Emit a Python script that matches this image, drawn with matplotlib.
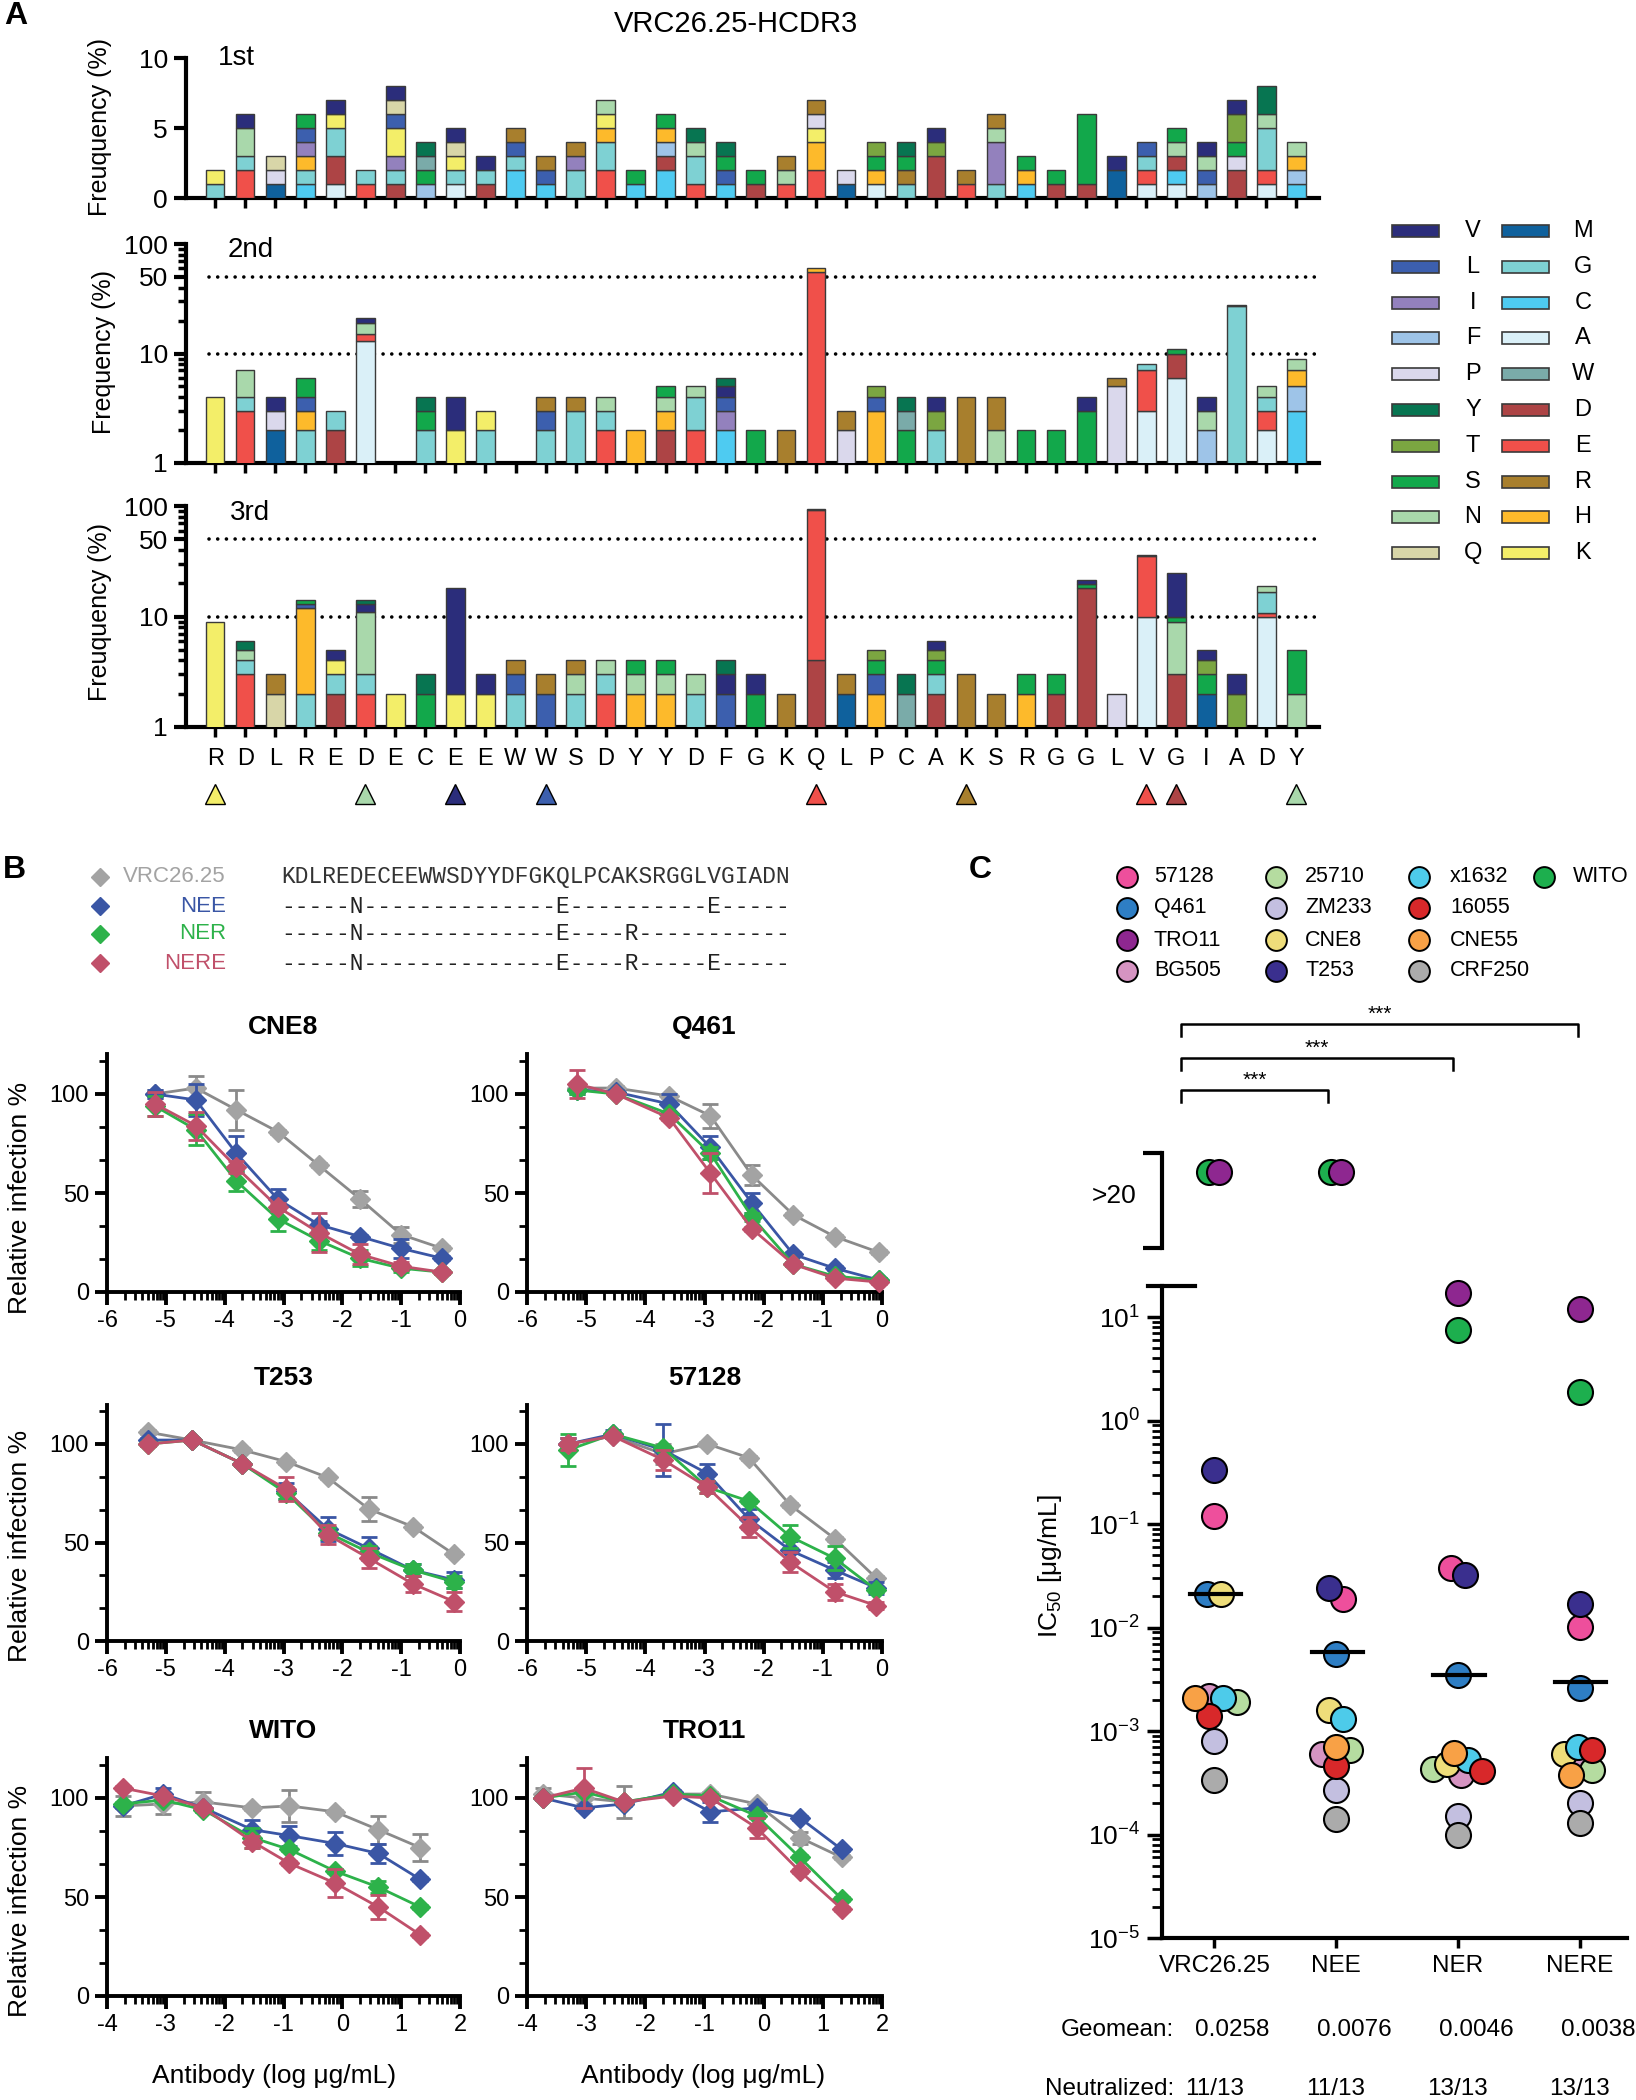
import numpy as np
import matplotlib
matplotlib.use('Agg')
import matplotlib.pyplot as plt
from matplotlib.patches import Rectangle
from matplotlib.lines import Line2D
import matplotlib.transforms as mtransforms

plt.rcParams.update({
    'font.family': ['Liberation Sans', 'DejaVu Sans'],
    'axes.unicode_minus': False,
    'mathtext.fontset': 'custom',
    'mathtext.rm': 'Liberation Sans',
    'mathtext.it': 'Liberation Sans:italic',
    'mathtext.bf': 'Liberation Sans:bold',
})

W, H = 1636, 2100
fig = plt.figure(figsize=(W / 100, H / 100), dpi=100)


def px_rect(l, t, r, b):
    return [l / W, 1 - b / H, (r - l) / W, (b - t) / H]


def fx(x):
    return x / W


def fy(y):
    return 1 - y / H


# ======================= DATA =======================
# Panel A: HCDR3 positions and per-round residue frequencies (%)
a_positions = list("RDLREDECEEWWSDYYDFGKQLPCAKSRGGLVGIADY")
round1 = ["G1 K1", "E2 G1 N2 V1", "M1 P1 Q1", "C1 G1 H1 I1 L1 S1", "A1 D2 G2 K1 V1",
          "E1 G1", "D1 G1 I1 K2 L1 Q1 V1", "F1 S1 W1 Y1", "A1 G1 K1 Q1 V1", "D1 G1 V1",
          "C2 G1 L1 R1", "C1 L1 R1", "G2 I1 R1", "E2 G2 H1 K1 N1", "C1 S1",
          "C2 D1 F1 H1 S1", "E1 G2 N1 Y1", "C1 L1 S1 Y1", "D1 S1", "E1 N1 R1",
          "E2 H2 K1 P1 R1", "M1 P1", "A1 H1 S1 T1", "G1 R1 S1 Y1", "D3 T1 V1",
          "E1 R1", "G1 I3 N1 R1", "C1 H1 S1", "D1 S1", "D1 S5",
          "M2 V1", "A1 E1 G1 L1", "A1 C1 D1 N1 S1", "F1 L1 N1 V1", "D2 P1 S1 T2 V1",
          "A1 E1 G3 N1 Y2", "C1 F1 H1 N1"]
round2 = ["K4", "E3 G1 N3", "M2 P1 V1", "G2 H1 L1 S2", "D2 G1",
          "A13 E2 N4 V2", "", "G2 S1 Y1", "K2 V2", "G2 K1",
          "", "G2 L1 R1", "G3 R1", "E2 G1 N1", "H2",
          "D2 H1 N1 S1", "E2 G2 N1", "C2 I1 L1 V1 Y1", "S2", "R2",
          "E55 H6", "P2 R1", "H3 L1 T1", "S2 W1 Y1", "G2 T1 V1",
          "R4", "N2 R2", "S2", "S2", "S3 V1",
          "P5 R1", "A3 E4 G1", "A6 D4 S1", "F2 N1 V1", "G27 V1",
          "A2 E1 G1 N1", "C3 F2 H2 N2"]
round3 = ["K9", "E3 G1 N1 Y1", "Q2 R1", "G2 H10 L1 S1", "D2 G1 K1 V1",
          "E2 G1 N8 V2 Y1", "K2", "S2 Y1", "K2 V16", "K2 V1",
          "G2 L1 R1", "L2 R1", "G2 N1 R1", "E2 G1 N1", "H2 N1 S1",
          "H2 N1 S1", "G2 N1", "L2 V1 Y1", "S2 V1", "R2",
          "D4 E88 V2", "M2 R1", "H2 L1 S1 T1", "W2 Y1", "D2 G1 S1 T1 V1",
          "R3", "R2", "H2 S1", "D2 S1", "D18 S1.5 V2",
          "P2", "A10 E25 V1", "D3 N6 S1 V15", "M2 S1 T1 V1", "T2 V1",
          "A10 E0.7 G6 N2", "N2 S3"]
round_names = ["1st", "2nd", "3rd"]
round_ylabels = ["Freuquency (%)", "Frequency (%)", "Freuquency (%)"]
marked_idx = [0, 5, 8, 11, 20, 25, 31, 32, 36]
marked_res = ["K", "N", "V", "L", "E", "R", "E", "D", "N"]

legend_col1 = list("VLIFPYTSNQ")
legend_col2 = list("MGCAWDERHK")
aa_colors = {
    'V': '#2B2D7B', 'L': '#3C5FAE', 'I': '#9381BD', 'F': '#9EC4E8', 'P': '#DAD8EC',
    'Y': '#077551', 'T': '#7BA641', 'S': '#12A84B', 'N': '#A9D8AB', 'Q': '#D8D6A8',
    'M': '#0F619D', 'G': '#7ED1D3', 'C': '#4ECBF1', 'A': '#DAF0F8', 'W': '#7AABA9',
    'D': '#AD4445', 'E': '#F0504A', 'R': '#A87F2D', 'H': '#FDBA2B', 'K': '#F3EE69'}

# Panel B: sequences
antibodies = ["VRC26.25", "NEE", "NER", "NERE"]
ab_colors = ["#A3A3A3", "#3A56A5", "#2DB24A", "#C0506A"]
ab_line_colors = ["#8A8A8A", "#3A56A5", "#2DB24A", "#C0506A"]
parent_seq = "KDLREDECEEWWSDYYDFGKQLPCAKSRGGLVGIADN"
mutations = {"NEE": [(5, "N"), (20, "E"), (31, "E")],
             "NER": [(5, "N"), (20, "E"), (25, "R")],
             "NERE": [(5, "N"), (20, "E"), (25, "R"), (31, "E")]}

# Panel B: neutralization curves (x = log10 antibody ug/mL)
curve_viruses = ["CNE8", "Q461", "T253", "57128", "WITO", "TRO11"]
curve_x = {
    "CNE8": [-5.19, -4.49, -3.80, -3.10, -2.40, -1.70, -1.00, -0.30],
    "Q461": [-5.15, -4.50, -3.60, -2.90, -2.20, -1.50, -0.80, -0.05],
    "T253": [-5.30, -4.55, -3.70, -2.95, -2.25, -1.55, -0.80, -0.10],
    "57128": [-5.30, -4.55, -3.70, -2.95, -2.25, -1.55, -0.80, -0.10],
    "WITO": [-3.73, -3.04, -2.36, -1.53, -0.90, -0.12, 0.61, 1.32],
    "TRO11": [-3.73, -3.04, -2.36, -1.53, -0.90, -0.12, 0.61, 1.32],
}
curve_y = {
    "CNE8": [[100, 103, 92, 81, 64, 47, 29, 22], [100, 97, 70, 47, 34, 28, 22, 17],
             [94, 82, 56, 37, 26, 17, 12, 10], [95, 84, 63, 43, 30, 19, 13, 10]],
    "Q461": [[103, 103, 99, 89, 59, 39, 28, 20], [102, 101, 95, 73, 45, 19, 12, 6],
             [102, 100, 90, 70, 38, 14, 8, 6], [105, 100, 88, 60, 32, 14, 7, 5]],
    "T253": [[106, 102, 97, 91, 83, 67, 58, 44], [102, 102, 90, 76, 57, 47, 36, 31],
             [100, 102, 90, 75, 55, 45, 36, 30], [100, 102, 90, 77, 54, 42, 29, 20]],
    "57128": [[100, 104, 95, 100, 93, 69, 52, 32], [100, 105, 97, 85, 62, 46, 36, 27],
              [97, 105, 98, 78, 71, 53, 42, 26], [100, 104, 92, 78, 58, 40, 25, 18]],
    "WITO": [[96, 97, 98, 95, 96, 93, 84, 75], [96, 102, 95, 84, 81, 77, 72, 59],
             [97, 99, 94, 80, 74, 63, 55, 45], [105, 101, 95, 78, 67, 57, 45, 31]],
    "TRO11": [[102, 100, 98, 102, 102, 97, 80, 70], [100, 95, 97, 103, 93, 95, 90, 74],
              [100, 103, 98, 102, 101, 91, 70, 49], [100, 105, 98, 101, 100, 85, 63, 44]],
}
curve_err = {
    "CNE8": [[2, 6, 10, 1, 1, 4, 4, 1], [2, 8, 9, 5, 2, 1, 5, 1],
             [5, 8, 5, 6, 5, 4, 2, 1], [6, 7, 3, 2, 10, 5, 2, 1]],
    "Q461": [[2, 1, 1, 6, 5, 1, 1, 1], [2, 1, 5, 6, 5, 1, 1, 1],
             [2, 1, 1, 3, 2, 1, 1, 1], [7, 1, 1, 10, 1, 1, 1, 1]],
    "T253": [[1, 1, 1, 1, 1, 6, 1, 1], [1, 1, 1, 4, 6, 6, 3, 4],
             [1, 1, 1, 3, 3, 3, 3, 3], [1, 1, 1, 6, 5, 5, 4, 5]],
    "57128": [[3, 1, 5, 1, 1, 1, 1, 1], [3, 2, 13, 5, 5, 5, 4, 3],
              [8, 1, 1, 3, 1, 6, 6, 1], [3, 1, 5, 3, 5, 5, 4, 2]],
    "WITO": [[5, 5, 5, 1, 8, 1, 7, 7], [1, 3, 1, 5, 5, 6, 5, 1],
             [1, 1, 1, 5, 1, 1, 3, 1], [1, 1, 1, 3, 1, 7, 6, 1]],
    "TRO11": [[3, 3, 8, 1, 1, 1, 3, 1], [1, 1, 1, 1, 5, 1, 1, 1],
              [1, 1, 1, 1, 1, 1, 1, 1], [1, 10, 1, 1, 1, 5, 1, 1]],
}
curve_xrange = {"CNE8": (-6, 0), "Q461": (-6, 0), "T253": (-6, 0),
                "57128": (-6, 0), "WITO": (-4, 2), "TRO11": (-4, 2)}

# Panel C: IC50 values (ug/mL); np.inf = >20
c_viruses = ["57128", "Q461", "TRO11", "BG505", "25710", "ZM233", "CNE8",
             "T253", "x1632", "16055", "CNE55", "CRF250", "WITO"]
c_colors = ["#EE4F9C", "#2E7EC4", "#8E2790", "#D694C2", "#B5DCA0", "#C3BFE0", "#EEDD7A",
            "#3A2F8E", "#4DCBEA", "#D8282A", "#F8A146", "#ABABAB", "#1DAF4E"]
inf = np.inf
ic50_vrc2625 = [0.12, 0.021, inf, 0.0022, 0.0019, 0.0008, 0.021, 0.33, 0.0021, 0.0014, 0.0021, 0.00034, inf]
ic50_nee = [0.019, 0.0055, inf, 0.0006, 0.00065, 0.00027, 0.0016, 0.024, 0.0013, 0.00046, 0.0007, 0.00014, inf]
ic50_ner = [0.038, 0.0035, 17, 0.00038, 0.00043, 0.00015, 0.00048, 0.032, 0.00052, 0.00041, 0.00062, 0.0001, 7.5]
ic50_nere = [0.0102, 0.0026, 12, 0.0005, 0.00042, 0.0002, 0.0006, 0.017, 0.0007, 0.00065, 0.00038, 0.00013, 1.9]
ic50_sets = [ic50_vrc2625, ic50_nee, ic50_ner, ic50_nere]
center_line = [0.021, 0.0058, 0.0035, 0.003]
geomean_txt = ["0.0258", "0.0076", "0.0046", "0.0038"]
neutralized_txt = ["11/13", "11/13", "13/13", "13/13"]
comparisons = [(0, 1), (0, 2), (0, 3)]
comp_labels = ["***", "***", "***"]

# ======================= PANEL A =======================
fig.text(fx(16), fy(16), "A", fontsize=23, fontweight='bold', ha='center', va='center')
fig.text(fx(736), fy(24), "VRC26.25-HCDR3", fontsize=21, ha='center', va='center')

rects_A = [px_rect(186, 58, 1319, 198), px_rect(186, 244, 1319, 463), px_rect(186, 506, 1319, 727)]
rounds = [round1, round2, round3]
label_pos = [(218, 58), (228, 250), (230, 513)]
ylabel_pos = [(100, 127), (104, 352), (100, 612)]
axA = []
for r, (rc, data) in enumerate(zip(rects_A, rounds)):
    ax = fig.add_axes(rc)
    axA.append(ax)
    if r > 0:
        ax.set_yscale('log', nonpositive='clip')
    for i, s in enumerate(data):
        cum = 0.0
        for tok in s.split():
            res, val = tok[0], float(tok[1:])
            ax.bar(i, val, bottom=cum, width=0.62, color=aa_colors[res],
                   edgecolor='#3a3a3a', linewidth=1.0, zorder=3)
            cum += val
    ax.set_xlim(-0.97, 36.75)
    ax.set_xticks(range(len(a_positions)))
    ax.tick_params(axis='x', length=7, width=2.5, labelbottom=False, direction='out')
    for sp in ['top', 'right']:
        ax.spines[sp].set_visible(False)
    for sp in ['left', 'bottom']:
        ax.spines[sp].set_linewidth(3)
    if r == 0:
        ax.set_ylim(0, 10)
        ax.set_yticks([0, 5, 10])
        ax.tick_params(axis='y', length=9, width=3, labelsize=19, pad=4)
    else:
        ax.set_ylim(1, 100)
        ax.set_yticks([1, 10, 50, 100])
        ax.set_yticklabels(["1", "10", "50", "100"])
        minors = [m * d for d in (1, 10) for m in range(2, 10) if m * d != 50]
        ax.set_yticks(minors, minor=True)
        ax.yaxis.set_minor_formatter(matplotlib.ticker.NullFormatter())
        ax.tick_params(axis='y', which='major', length=9, width=3, labelsize=19, pad=4)
        ax.tick_params(axis='y', which='minor', length=6, width=2.5)
        for lvl in (10, 50):
            ax.axhline(lvl, color='black', lw=2.6, linestyle=(0, (0.01, 2.4)),
                       dash_capstyle='round', zorder=1, xmin=0.02)
    fig.text(fx(label_pos[r][0]), fy(label_pos[r][1]), round_names[r], fontsize=20,
             ha='left', va='center')
    fig.text(fx(ylabel_pos[r][0]), fy(ylabel_pos[r][1]), round_ylabels[r], fontsize=18,
             rotation=90, ha='center', va='center')

ax3 = axA[2]
tr = ax3.get_xaxis_transform()
for i, aa in enumerate(a_positions):
    ax3.text(i, -0.145, aa, transform=tr, ha='center', va='center', fontsize=17, clip_on=False)
for i, res in zip(marked_idx, marked_res):
    ax3.plot([i], [-0.305], transform=tr, marker='^', ms=15, color=aa_colors[res],
             markeredgecolor='black', markeredgewidth=1.0, clip_on=False, ls='none')

# legend A
row_y0, row_dy = 231, 35.8
for col, (names, px0, lx) in enumerate([(legend_col1, 1392, 1473), (legend_col2, 1502, 1583)]):
    for k, aa in enumerate(names):
        y = row_y0 + k * row_dy
        fig.patches.append(Rectangle((fx(px0), fy(y + 6)), 47 / W, 12 / H, transform=fig.transFigure,
                                     facecolor=aa_colors[aa], edgecolor='#3a3a3a', lw=1.2))
        fig.text(fx(lx), fy(y), aa, fontsize=17, ha='center', va='center')

# ======================= PANEL B =======================
fig.text(fx(14), fy(870), "B", fontsize=23, fontweight='bold', ha='center', va='center')
seq_rows_y = [877, 906, 934, 963]
for k, (name, col) in enumerate(zip(antibodies, ab_colors)):
    y = seq_rows_y[k]
    fig.add_artist(Line2D([fx(100)], [fy(y)], marker='D', ms=9, color=col,
                          transform=fig.transFigure, ls='none'))
    fig.text(fx(226), fy(y), name, color=col, fontsize=16, ha='right', va='center')
    if name in mutations:
        s = ['-'] * len(parent_seq)
        for idx, aa in mutations[name]:
            s[idx] = aa
        s = ''.join(s)
        scol = '#222222'
    else:
        s = parent_seq
        scol = '#333333'
    fig.text(fx(281), fy(y), s, fontsize=16.5, family='Liberation Mono', color=scol,
             ha='left', va='center')

b_rects = {
    "CNE8": (107, 460, 1292, 1.98), "Q461": (527, 882, 1292, 1.98),
    "T253": (107, 460, 1641, 1.97), "57128": (527, 882, 1641, 1.97),
    "WITO": (107, 460, 1996, 1.98), "TRO11": (527, 882, 1996, 1.98),
}
for v in curve_viruses:
    l, rr, b0, ppu = b_rects[v]
    top = b0 - 120 * ppu
    ax = fig.add_axes(px_rect(l, top, rr, b0))
    x = curve_x[v]
    for j in range(4):
        ax.errorbar(x, curve_y[v][j], yerr=curve_err[v][j], color=ab_line_colors[j],
                    marker='D', ms=10, mfc=ab_colors[j], mec=ab_colors[j], lw=2,
                    elinewidth=2, capsize=6, capthick=2, zorder=3 + j, clip_on=False)
    x0, x1 = curve_xrange[v]
    ax.set_xlim(x0, x1)
    ax.set_ylim(0, 120)
    ax.set_xticks(range(x0, x1 + 1))
    ax.set_xticks([k + np.log10(m) for k in range(x0, x1) for m in range(2, 10)], minor=True)
    ax.set_yticks([0, 50, 100])
    ax.set_yticks([50 / 3, 100 / 3, 200 / 3, 250 / 3, 350 / 3], minor=True)
    for sp in ['top', 'right']:
        ax.spines[sp].set_visible(False)
    for sp in ['left', 'bottom']:
        ax.spines[sp].set_linewidth(2.8)
    ax.tick_params(axis='both', which='major', length=9, width=2.8, labelsize=17, pad=4)
    ax.tick_params(axis='both', which='minor', length=6, width=2)
    fig.text(fx((l + rr) / 2), fy(top - 27), v, fontsize=19, fontweight='bold',
             ha='center', va='center')

for ycen in (1198, 1546, 1901):
    fig.text(fx(20), fy(ycen), "Relative infection %", fontsize=19, rotation=90,
             ha='center', va='center')
for xc in (274, 703):
    fig.text(fx(xc), fy(2076), "Antibody (log μg/mL)", fontsize=19, ha='center', va='center')

# ======================= PANEL C =======================
fig.text(fx(980), fy(870), "C", fontsize=23, fontweight='bold', ha='center', va='center')
leg_cols_x = [(1127, 1154), (1276, 1305), (1419, 1450), (1544, 1573)]
leg_rows_y = [877, 908, 940, 971]
for n, (name, col) in enumerate(zip(c_viruses, c_colors)):
    c, rw = divmod(n, 4)
    mx, lx = leg_cols_x[c]
    y = leg_rows_y[rw]
    fig.add_artist(Line2D([fx(mx)], [fy(y)], marker='o', ms=15, mfc=col, mec='black', mew=1.4,
                          transform=fig.transFigure, ls='none'))
    fig.text(fx(lx), fy(y), name, fontsize=15.5, ha='left', va='center')

c_left, c_right = 1162, 1627
axC = fig.add_axes(px_rect(c_left, 1286, c_right, 1938))
axU = fig.add_axes(px_rect(c_left, 1153, c_right, 1248))
xlim_c = (-0.43, 3.39)
ylim_c = (1e-5, 20)
for ax in (axC, axU):
    ax.set_xlim(*xlim_c)
    ax.patch.set_alpha(0)
axC.set_yscale('log')
axC.set_ylim(*ylim_c)
axU.set_ylim(0, 1)

px_per_unit = (c_right - c_left) / (xlim_c[1] - xlim_c[0])
px_per_dec = 652 / (np.log10(ylim_c[1]) - np.log10(ylim_c[0]))
diam = 25.0
msize = diam / 1.389


def swarm(vals):
    order = sorted(range(len(vals)), key=lambda i: -vals[i])
    placed = []
    xs = [0.0] * len(vals)
    ys = [np.log10(v) * px_per_dec for v in vals]
    step = 0.28 * diam
    cands = [0.0]
    for n in range(1, 16):
        cands += [n * step, -n * step]
    for i in order:
        for c in cands:
            if all((c - px) ** 2 + (ys[i] - py) ** 2 >= (0.52 * diam) ** 2 for px, py in placed):
                break
        placed.append((c, ys[i]))
        xs[i] = c
    # centre each touching cluster on the category position
    n = len(vals)
    parent = list(range(n))

    def find(a):
        while parent[a] != a:
            a = parent[a]
        return a
    for a in range(n):
        for b in range(a + 1, n):
            if (xs[a] - xs[b]) ** 2 + (ys[a] - ys[b]) ** 2 < diam ** 2:
                parent[find(a)] = find(b)
    groups = {}
    for a in range(n):
        groups.setdefault(find(a), []).append(a)
    for members in groups.values():
        m = np.mean([xs[a] for a in members])
        for a in members:
            xs[a] -= m
    return [x / px_per_unit for x in xs]


for g, vals in enumerate(ic50_sets):
    finite = [i for i, v in enumerate(vals) if np.isfinite(v)]
    offs = swarm([vals[i] for i in finite])
    for i, o in zip(finite, offs):
        axC.plot([g + o], [vals[i]], marker='o', ms=msize, mfc=c_colors[i], mec='black',
                 mew=1.5, ls='none', zorder=3, clip_on=False)
    above = [i for i, v in enumerate(vals) if not np.isfinite(v)][::-1]
    step = 0.4 * diam / px_per_unit
    for k, i in enumerate(above):
        o = (k - (len(above) - 1) / 2) * step
        axU.plot([g + o], [0.8], marker='o', ms=msize, mfc=c_colors[i], mec='black',
                 mew=1.5, ls='none', zorder=3, clip_on=False)
    axC.plot([g - 0.2, g + 0.22], [center_line[g]] * 2, color='black', lw=3, zorder=5)

for sp in ['top', 'right']:
    axC.spines[sp].set_visible(False)
axC.spines['left'].set_linewidth(3)
axC.spines['bottom'].set_linewidth(3)
axC.set_yticks([10.0 ** k for k in range(-5, 2)])
axC.set_yticklabels([r"$10^{%d}$" % k for k in range(-5, 2)])
axC.set_yticks([m * 10.0 ** k for k in range(-5, 2) for m in range(2, 10) if m * 10.0 ** k < 20],
               minor=True)
axC.yaxis.set_minor_formatter(matplotlib.ticker.NullFormatter())
axC.tick_params(axis='y', which='major', length=11, width=2.5, labelsize=19, pad=5)
axC.tick_params(axis='y', which='minor', length=7, width=2)
axC.set_xticks(range(4))
axC.set_xticklabels(antibodies)
axC.tick_params(axis='x', length=7, width=2.5, labelsize=17.5, pad=5)
axC.plot([-0.03, 0.07], [1, 1], transform=axC.transAxes, color='black', lw=3, clip_on=False)

for sp in ['top', 'right', 'bottom']:
    axU.spines[sp].set_visible(False)
axU.spines['left'].set_linewidth(3)
axU.set_xticks([])
axU.set_yticks([0, 1])
axU.set_yticklabels(["", ""])
axU.tick_params(axis='y', length=14, width=3)
fig.text(fx(1114), fy(1196), ">20", fontsize=19, ha='center', va='center')
fig.text(fx(1050), fy(1566), r"IC$_{50}$ [μg/mL]", fontsize=19, rotation=90,
         ha='center', va='center')

btr = mtransforms.blended_transform_factory(axC.transData, fig.transFigure)
bracket_y = [1090, 1058, 1024]
for (a, b), lab, yb in zip(comparisons, comp_labels, bracket_y):
    xa, xb = a - 0.27, b + 0.03 * b - 0.1
    fig.add_artist(Line2D([xa, xa, xb, xb], [fy(yb + 12), fy(yb), fy(yb), fy(yb + 12)],
                          transform=btr, color='black', lw=1.8))
    fig.text((xa + xb) / 2, fy(yb - 10), lab, transform=btr, fontsize=15, ha='center', va='center')

fig.text(fx(1174), fy(2030), "Geomean:", fontsize=17.5, ha='right', va='center')
fig.text(fx(1174), fy(2089), "Neutralized:", fontsize=17.5, ha='right', va='center')
for g in range(4):
    fig.text(g + 0.15, fy(2030), geomean_txt[g], transform=btr, fontsize=17.5,
             ha='center', va='center')
    fig.text(g, fy(2089), neutralized_txt[g], transform=btr, fontsize=17.5,
             ha='center', va='center')

fig.savefig("out.png", dpi=100)
